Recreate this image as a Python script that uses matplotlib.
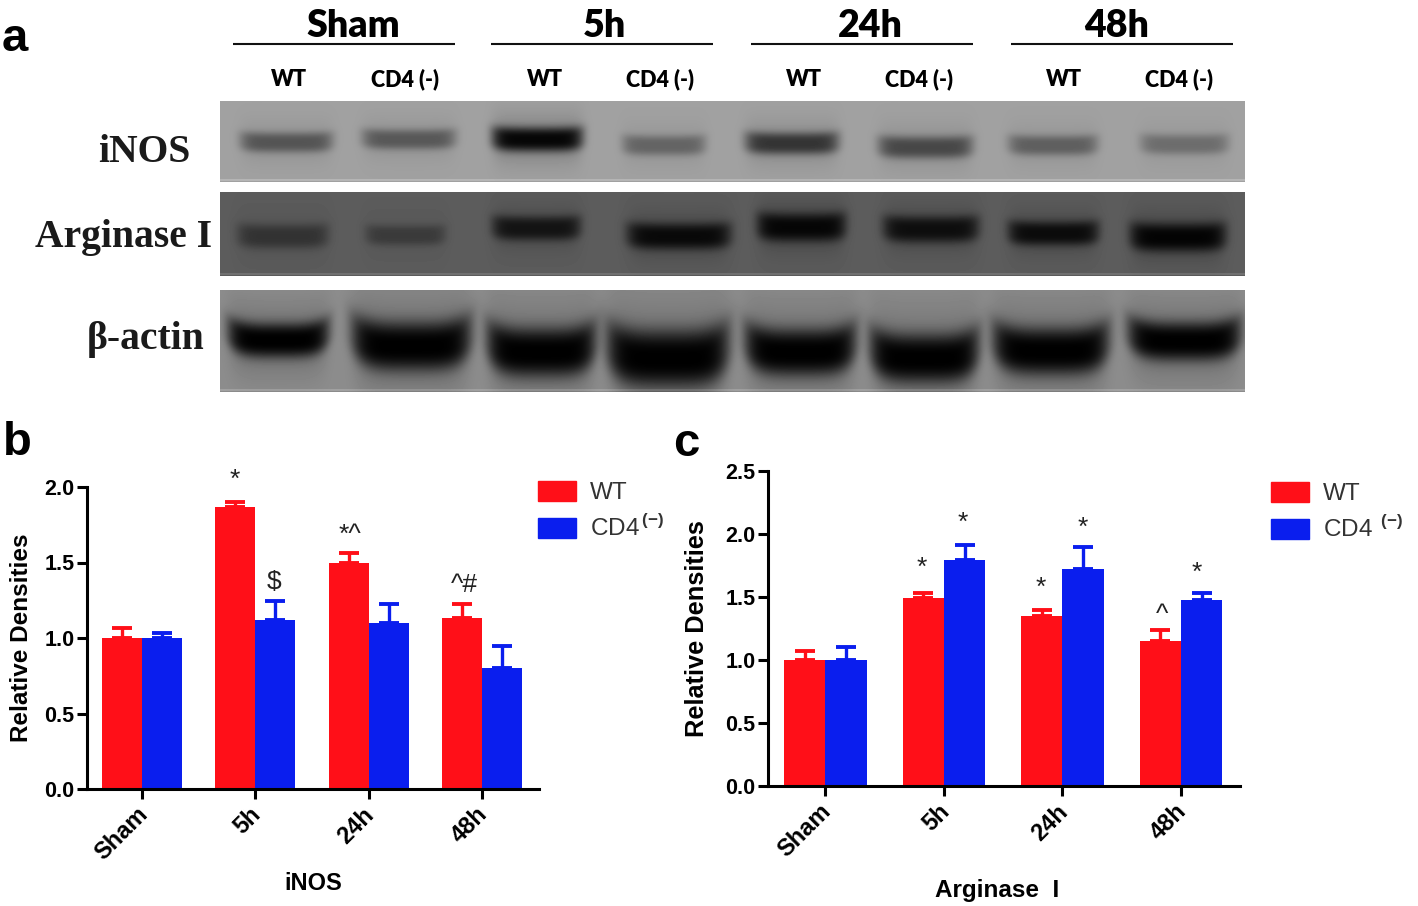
import numpy as np
import matplotlib
matplotlib.use("Agg")
import matplotlib.pyplot as plt
from matplotlib.patches import Patch
from matplotlib.transforms import ScaledTranslation

W, H = 1418, 906
plt.rcParams['font.family'] = ['Liberation Sans', 'DejaVu Sans']
plt.rcParams['mathtext.fontset'] = 'custom'
plt.rcParams['mathtext.rm'] = 'Liberation Sans'
plt.rcParams['mathtext.bf'] = 'Liberation Sans:bold'

RED = '#FF0F18'
BLUE = '#0A1EEE'

categories = ['Sham', '5h', '24h', '48h']

# panel b
inos_wt = [1.00, 1.87, 1.50, 1.13]
inos_wt_err = [0.065, 0.03, 0.065, 0.095]
inos_cd4 = [1.00, 1.12, 1.10, 0.80]
inos_cd4_err = [0.035, 0.125, 0.125, 0.145]
# significance marks: category position, height, text
inos_marks = [(0.82, 2.05, '*'), (1.168, 1.37, '$'), (1.832, 1.68, '*^'), (2.84, 1.35, '^#')]

# panel c
arg_wt = [1.00, 1.49, 1.35, 1.15]
arg_wt_err = [0.075, 0.045, 0.045, 0.085]
arg_cd4 = [1.00, 1.79, 1.72, 1.48]
arg_cd4_err = [0.105, 0.125, 0.175, 0.055]
arg_marks = [(0.81, 1.73, '*'), (1.16, 2.09, '*'), (1.82, 1.57, '*'), (2.17, 2.05, '*'),
             (2.84, 1.36, '^'), (3.135, 1.69, '*')]

# blot panel, one entry per lane: left edge, right edge, centre row, half height, darkness
inos_left = [240, 362, 492, 622, 745, 878, 1008, 1140]
inos_right = [332, 455, 582, 705, 838, 972, 1097, 1228]
inos_row = [142, 139, 139, 145, 143, 147, 145, 144]
inos_half = [10, 10, 12, 10, 11, 11, 10, 10]
inos_dark = [0.42, 0.40, 0.95, 0.33, 0.62, 0.50, 0.36, 0.28]

arg_left = [237, 365, 492, 627, 757, 883, 1008, 1130]
arg_right = [328, 445, 580, 730, 845, 978, 1098, 1225]
arg_row = [236, 235, 228, 236, 227, 229, 233, 237]
arg_half = [12, 10, 12, 13, 14, 13, 12, 14]
arg_dark = [0.40, 0.32, 0.75, 0.88, 0.92, 0.82, 0.85, 0.95]

actin_left = [228, 352, 487, 607, 745, 870, 993, 1128]
actin_right = [328, 470, 595, 728, 855, 978, 1108, 1240]
actin_row = [340, 346, 352, 358, 352, 358, 351, 341]
actin_half = [17, 24, 24, 28, 23, 24, 23, 19]
actin_dark = [1.0, 1.0, 1.0, 1.0, 1.0, 1.0, 1.0, 1.0]

group_labels = ['Sham', '5h', '24h', '48h']
group_left = [233, 491, 751, 1011]
group_right = [455, 713, 973, 1233]
group_text_x = [353, 604, 870, 1117]
lane_x_wt = [289, 545, 804, 1064]
lane_x_cd4 = [405, 660, 919, 1179]


def px_axes(fig, left, top, right, bottom, **kw):
    return fig.add_axes([left / W, 1 - bottom / H, (right - left) / W, (bottom - top) / H], **kw)


def draw_blot(fig, top, bottom, bg, lefts, rights, rows, halves, darks, smile):
    left, right = 220, 1245
    xx, yy = np.meshgrid(np.arange(left, right), np.arange(top, bottom))
    img = np.full(xx.shape, bg, dtype=float)
    for l, r, c, h, d in zip(lefts, rights, rows, halves, darks):
        mid = (l + r) / 2
        half_w = (r - l) / 2
        u = (xx - mid) / half_w
        v = (yy - c + smile * h * u ** 4) / h
        side = np.exp(-np.abs(u) ** 8)
        band = side * np.exp(-np.abs(v) ** 3)
        halo = 0.22 * d * side * np.exp(-(v / 2.0) ** 2)
        img = img * (1 - d * band) * (1 - halo)
    # thin lighter rim along the bottom of the membrane
    img[-3:-1, :] = np.minimum(img[-3:-1, :] + 0.08, 1)
    ax = px_axes(fig, left, top, right, bottom)
    ax.imshow(img, cmap='gray', vmin=0, vmax=1, aspect='auto', interpolation='bilinear')
    ax.axis('off')


def draw_bars(fig, box, wt, wt_err, cd4, cd4_err, ymax, yticks, xlim, width, marks, label_size, label_pad):
    ax = px_axes(fig, *box)
    x = np.arange(len(categories))
    err_kw = dict(lw=2.4, capsize=7.5, capthick=2.8)
    ax.bar(x - width / 2, wt, width, color=RED, yerr=[np.zeros(4), wt_err],
           error_kw=dict(ecolor=RED, **err_kw))
    ax.bar(x + width / 2, cd4, width, color=BLUE, yerr=[np.zeros(4), cd4_err],
           error_kw=dict(ecolor=BLUE, **err_kw))
    for mx, my, s in marks:
        ax.text(mx, my, s, ha='center', va='center', fontsize=19, color='#222222')
    ax.set_xlim(*xlim)
    ax.set_ylim(0, ymax)
    ax.set_yticks(yticks)
    ax.set_yticklabels([f'{t:.1f}' for t in yticks], fontweight='bold', fontsize=15.5)
    ax.set_xticks(x)
    ax.set_xticklabels(categories, rotation=45, ha='right', rotation_mode='anchor',
                       fontweight='bold', fontsize=17)
    ax.tick_params(axis='both', width=2.2, length=7, pad=2)
    ax.tick_params(axis='x', pad=3)
    # the slanted labels sit a little left of their ticks in the original,
    # has to come after tick_params or the pad resets the transform
    shift = ScaledTranslation(-6 / 100, 0, fig.dpi_scale_trans)
    for lab in ax.get_xticklabels():
        lab.set_transform(lab.get_transform() + shift)
    for side in ['top', 'right']:
        ax.spines[side].set_visible(False)
    for side in ['left', 'bottom']:
        ax.spines[side].set_linewidth(2.2)
    ax.set_ylabel('Relative Densities', fontweight='bold', fontsize=label_size, labelpad=label_pad)
    ax.patch.set_alpha(0)
    return ax


def add_legend(ax, fig, left, top, cd4_label):
    handles = [Patch(color=RED), Patch(color=BLUE)]
    ax.legend(handles, ['WT', cd4_label], loc='upper left', bbox_to_anchor=(left / W, 1 - top / H),
              bbox_transform=fig.transFigure, frameon=False, fontsize=17.5, borderpad=0,
              borderaxespad=0, handlelength=1.55, handleheight=0.9, labelspacing=0.42,
              handletextpad=0.58, labelcolor='#333333')


fig = plt.figure(figsize=(W / 100, H / 100), dpi=100, facecolor='white')

# overlay in pixel coordinates for the free labels
over = fig.add_axes([0, 0, 1, 1])
over.set_xlim(0, W)
over.set_ylim(H, 0)
over.axis('off')

for label, l, r, tx in zip(group_labels, group_left, group_right, group_text_x):
    over.plot([l, r], [44, 44], color='#111111', lw=1.5, solid_capstyle='butt')
    over.text(tx, 26, label, ha='center', va='center', fontsize=27, fontweight='heavy', family='Lato')
for xw, xc in zip(lane_x_wt, lane_x_cd4):
    over.text(xw, 80, 'WT', ha='center', va='center', fontsize=15.5, fontweight='heavy', family='Lato')
    over.text(xc, 79, 'CD4 (-)', ha='center', va='center', fontsize=15.5, fontweight='heavy', family='Lato')

for s, x, y in [('iNOS', 144, 152), ('Arginase I', 124, 238), ('β-actin', 146, 339)]:
    over.text(x, y, s, ha='center', va='center', fontsize=28.5, fontweight='bold',
              family=['Liberation Serif', 'DejaVu Serif'], color='#1a1a1a')

for s, x, y in [('a', 15, 39), ('b', 17, 443), ('c', 686, 444)]:
    over.text(x, y, s, ha='center', va='center', fontsize=34, fontweight='bold')

over.text(313, 884, 'iNOS', ha='center', va='center', fontsize=17, fontweight='bold')
over.text(997, 890, 'Arginase  I', ha='center', va='center', fontsize=17.5, fontweight='bold')

draw_blot(fig, 101, 182, 0.63, inos_left, inos_right, inos_row, inos_half, inos_dark, 0.2)
draw_blot(fig, 192, 276, 0.36, arg_left, arg_right, arg_row, arg_half, arg_dark, 0.2)
draw_blot(fig, 290, 392, 0.55, actin_left, actin_right, actin_row, actin_half, actin_dark, 0.55)

ax_b = draw_bars(fig, (87, 487, 539, 789), inos_wt, inos_wt_err, inos_cd4, inos_cd4_err, 2.0,
                 [0.0, 0.5, 1.0, 1.5, 2.0], (-0.484, 3.502), 0.352, inos_marks, 17.5, 8)
add_legend(ax_b, fig, 538, 481, r'CD4$^{\mathbf{\,(-)}}$')

ax_c = draw_bars(fig, (768, 471, 1240, 786), arg_wt, arg_wt_err, arg_cd4, arg_cd4_err, 2.5,
                 [0.0, 0.5, 1.0, 1.5, 2.0, 2.5], (-0.483, 3.497), 0.348, arg_marks, 18.3, 12)
add_legend(ax_c, fig, 1271, 482, r'CD4$^{\mathbf{\;\;(-)}}$')

fig.savefig('out.png', dpi=100)
